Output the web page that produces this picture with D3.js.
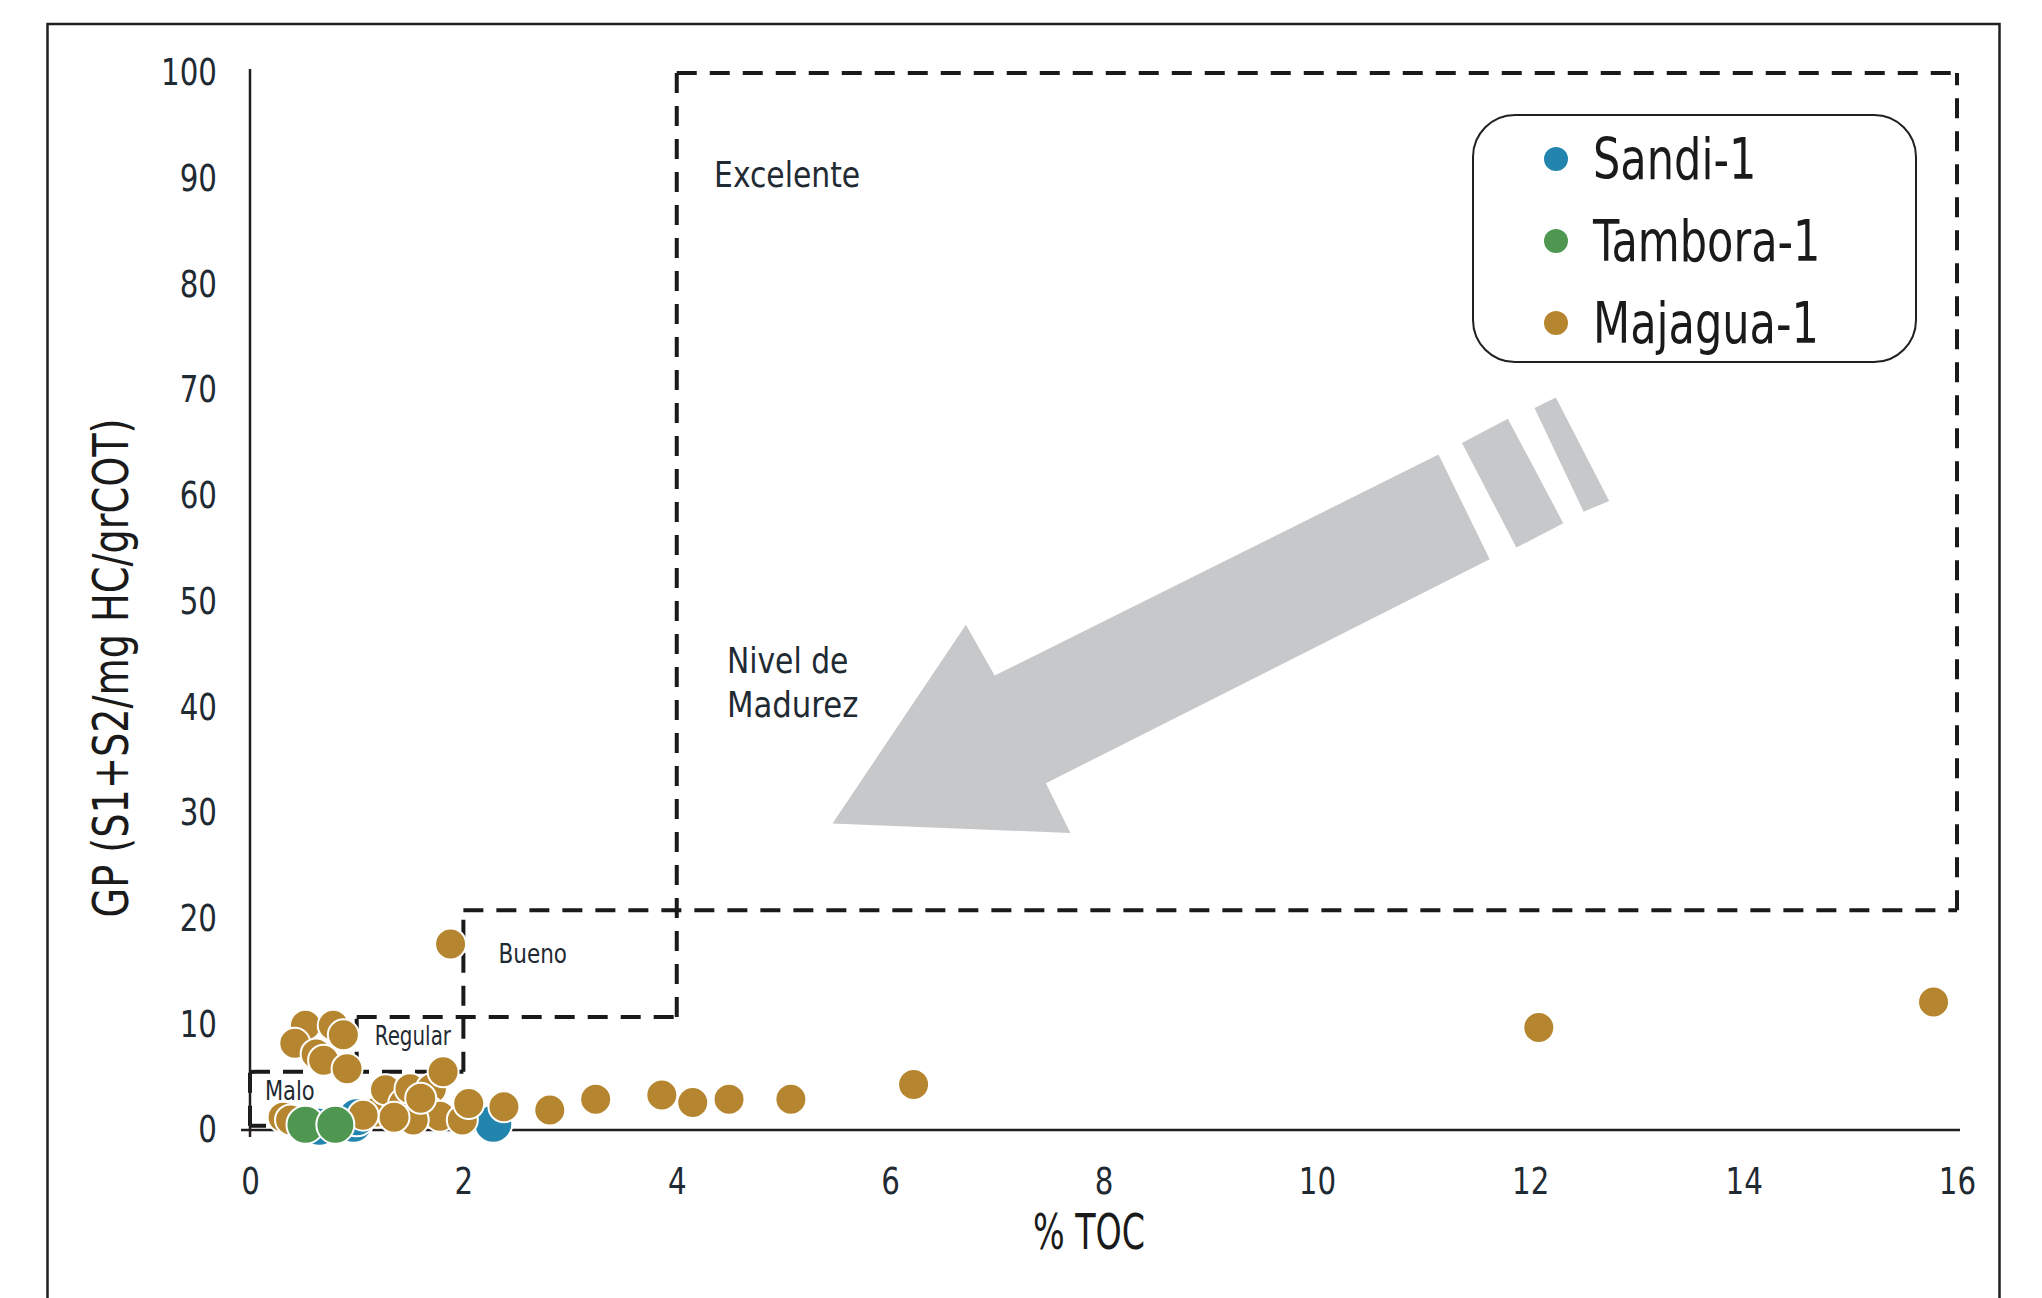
<!DOCTYPE html>
<html>
<head>
<meta charset="utf-8">
<script src="https://cdn.jsdelivr.net/npm/d3@7"></script>
<style>
  body { margin: 0; background: #fff; }
  svg { display: block; }
  text { font-family: "DejaVu Sans Condensed", "DejaVu Sans", sans-serif; fill: #1f2a33; }
</style>
</head>
<body>
<svg width="2042" height="1298"></svg>
<script>
// series: % TOC and GP for each well
const sandiTOC = [0.65, 0.97, 1.0, 2.28];
const sandiGP  = [0.3, 0.6, 1.2, 0.6];

const tamboraTOC = [0.52, 0.80];
const tamboraGP  = [0.5, 0.5];

const majaguaTOC = [0.52, 0.78, 0.875, 0.42, 0.62, 0.69, 0.91,
  0.31, 0.38, 1.19, 1.27, 1.44, 1.50, 1.70, 1.81, 1.66, 1.78, 1.53, 1.35, 1.60, 1.99, 2.05,
  1.88, 2.38, 2.81, 3.24, 3.86, 4.15, 4.49, 5.07, 6.22, 12.08, 15.78, 1.06];
const majaguaGP = [9.9, 9.9, 9.0, 8.2, 7.2, 6.6, 5.8,
  1.2, 0.95, 1.7, 3.8, 2.5, 3.9, 3.9, 5.5, 1.9, 1.3, 0.95, 1.2, 3.0, 0.95, 2.5,
  17.6, 2.2, 1.9, 2.9, 3.3, 2.6, 2.9, 2.9, 4.3, 9.7, 12.1, 1.4];

const xTicks = [0, 2, 4, 6, 8, 10, 12, 14, 16];
const yTicks = [0, 10, 20, 30, 40, 50, 60, 70, 80, 90, 100];

// zone limits (as drawn)
const tocLimits = [0, 1, 2, 4, 16];
const gpLimits = [0.4, 5.5, 10.7, 20.8, 100];

const seriesNames = ['Sandi-1', 'Tambora-1', 'Majagua-1'];
const seriesColors = ['#2385ae', '#4f9650', '#b5862f'];

// maturity arrow outline, in data units
const arrowBody = [[5.46, 29.0], [6.71, 47.8], [6.98, 43.0], [11.14, 63.9],
  [11.62, 54.0], [7.46, 32.8], [7.69, 28.1]];
const arrowStripes = [
  [[11.36, 65.0], [11.79, 67.3], [12.31, 57.4], [11.87, 55.1]],
  [[12.04, 68.3], [12.24, 69.3], [12.74, 59.5], [12.50, 58.5]]
];

const svg = d3.select('svg');

const x = d3.scaleLinear().domain([0, 16]).range([250, 1957]);
const y = d3.scaleLinear().domain([0, 100]).range([1130, 73]);

// the original uses a condensed face; narrow the glyphs to match
const squeeze = (sel, k) => sel.each(function() {
  const w = this.getComputedTextLength();
  d3.select(this).attr('textLength', w * k).attr('lengthAdjust', 'spacingAndGlyphs');
});

// outer frame
svg.append('rect')
  .attr('x', 47.5).attr('y', 24)
  .attr('width', 1952).attr('height', 1320)
  .attr('fill', 'none')
  .attr('stroke', '#231f20')
  .attr('stroke-width', 2.5);

// arrow
const pts = p => p.map(d => [x(d[0]), y(d[1])].join(',')).join(' ');
svg.append('polygon').attr('points', pts(arrowBody)).attr('fill', '#c7c8ca');
svg.selectAll('.stripe').data(arrowStripes)
  .enter().append('polygon')
    .attr('class', 'stripe')
    .attr('points', d => pts(d))
    .attr('fill', '#c7c8ca');

// zone lines
const [t0, t1, t2, t4, t16] = tocLimits;
const [g0, g5, g10, g20, g100] = gpLimits;
const zoneLines = [
  [[t0, g0], [0.15, g0]],
  [[t0, g0], [t0, g5]],
  [[t0, g5], [t2, g5]],
  [[t1, g5], [t1, g10]],
  [[t1, g10], [t4, g10]],
  [[t2, g5], [t2, g20]],
  [[t2, g20], [t16, g20]],
  [[t4, g10], [t4, g100]],
  [[t4, g100], [t16, g100]],
  [[t16, g20], [t16, g100]]
];
svg.selectAll('.zone').data(zoneLines)
  .enter().append('line')
    .attr('class', 'zone')
    .attr('x1', d => x(d[0][0])).attr('y1', d => y(d[0][1]))
    .attr('x2', d => x(d[1][0])).attr('y2', d => y(d[1][1]))
    .attr('stroke', '#1a1a1a')
    .attr('stroke-width', 4)
    .attr('stroke-dasharray', '20 13');

// zone labels
const zoneLabels = [
  {text: 'Malo', toc: 0.14, gp: 2.85, size: 26, k: 0.9},
  {text: 'Regular', toc: 1.17, gp: 8.0, size: 26, k: 0.85},
  {text: 'Bueno', toc: 2.33, gp: 15.8, size: 26, k: 0.92},
  {text: 'Excelente', toc: 4.35, gp: 89.2, size: 36, k: 0.92},
  {text: 'Nivel de', toc: 4.47, gp: 43.2, size: 36, k: 0.92},
  {text: 'Madurez', toc: 4.47, gp: 39.1, size: 36, k: 0.95}
];
svg.selectAll('.zlabel').data(zoneLabels)
  .enter().append('text')
    .attr('class', 'zlabel')
    .attr('x', d => x(d.toc))
    .attr('y', d => y(d.gp))
    .attr('font-size', d => d.size)
    .text(d => d.text)
    .each(function(d) { squeeze(d3.select(this), d.k); });

// axes
const xAxisG = svg.append('g')
  .attr('transform', `translate(0,${y(0)})`)
  .call(d3.axisBottom(x).tickValues(xTicks).tickSize(0).tickPadding(38));
xAxisG.select('.domain').remove();
xAxisG.selectAll('text').attr('font-size', 37).attr('font-family', null);
squeeze(xAxisG.selectAll('text'), 0.88);

const yAxisG = svg.append('g')
  .attr('transform', `translate(${x(0)},0)`)
  .call(d3.axisLeft(y).tickValues(yTicks).tickSize(0).tickPadding(33));
yAxisG.select('.domain').remove();
yAxisG.selectAll('text').attr('font-size', 37).attr('font-family', null);
squeeze(yAxisG.selectAll('text'), 0.88);

svg.append('line')
  .attr('x1', x(0) - 9).attr('x2', x(16) + 3)
  .attr('y1', y(0)).attr('y2', y(0))
  .attr('stroke', '#231f20').attr('stroke-width', 2.5);
svg.append('line')
  .attr('x1', x(0)).attr('x2', x(0))
  .attr('y1', y(100) - 4).attr('y2', y(0) + 7)
  .attr('stroke', '#231f20').attr('stroke-width', 2.5);

svg.append('text')
  .attr('x', 1089).attr('y', 1249)
  .attr('text-anchor', 'middle')
  .attr('font-size', 50)
  .style('fill', '#1a1a1a')
  .text('% TOC')
  .call(squeeze, 0.74);

svg.append('text')
  .attr('transform', 'translate(128,668) rotate(-90)')
  .attr('text-anchor', 'middle')
  .attr('font-size', 50)
  .style('fill', '#1a1a1a')
  .text('GP (S1+S2/mg HC/grCOT)')
  .call(squeeze, 0.85);

// points
const toPoints = (tocs, gps) => tocs.map((t, i) => ({toc: t, gp: gps[i]}));
const layers = [
  {pts: toPoints(sandiTOC, sandiGP), color: seriesColors[0], r: 19},
  {pts: toPoints(majaguaTOC, majaguaGP), color: seriesColors[2], r: 15.5},
  {pts: toPoints(tamboraTOC, tamboraGP), color: seriesColors[1], r: 19}
];
layers.forEach(layer => {
  svg.append('g').selectAll('circle').data(layer.pts)
    .enter().append('circle')
      .attr('cx', d => x(d.toc))
      .attr('cy', d => y(d.gp))
      .attr('r', layer.r)
      .attr('fill', layer.color)
      .attr('stroke', '#fff')
      .attr('stroke-width', 2);
});

// legend
const legend = svg.append('g').attr('transform', 'translate(1473,115)');
legend.append('rect')
  .attr('width', 443).attr('height', 247)
  .attr('rx', 42).attr('ry', 42)
  .attr('fill', '#fff')
  .attr('stroke', '#231f20')
  .attr('stroke-width', 2);
const item = legend.selectAll('.item').data(seriesNames)
  .enter().append('g')
    .attr('class', 'item')
    .attr('transform', (d, i) => `translate(0,${44 + i * 82})`);
item.append('circle')
  .attr('cx', 83).attr('r', 12)
  .attr('fill', (d, i) => seriesColors[i]);
item.append('text')
  .attr('x', 120).attr('y', 20)
  .attr('font-size', 57)
  .style('fill', '#1a1a1a')
  .text(d => d)
  .call(squeeze, 0.84);
</script>
</body>
</html>
